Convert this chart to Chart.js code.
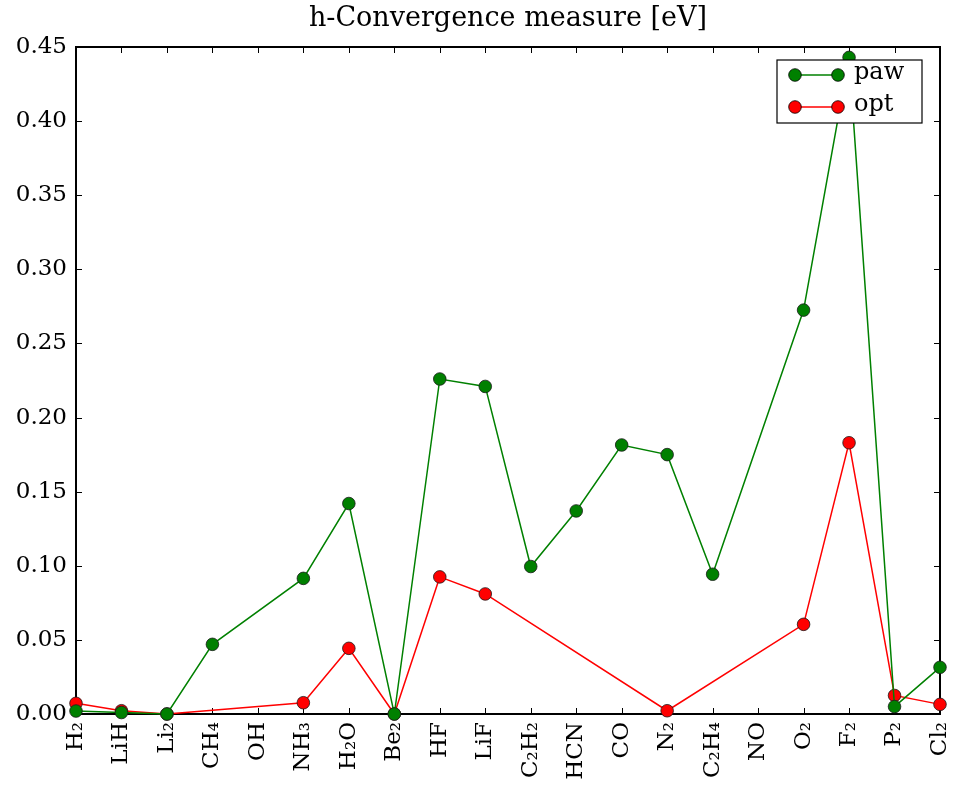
<!DOCTYPE html>
<html><head><meta charset="utf-8">
<script src="https://cdn.jsdelivr.net/npm/chart.js@4.4.1/dist/chart.umd.min.js"></script>
<style>html,body{margin:0;padding:0;background:#fff}canvas{display:block}</style>
</head><body>
<canvas id="c" width="959" height="786"></canvas>
<script>
const categories = ['H₂','LiH','Li₂','CH₄','OH','NH₃','H₂O','Be₂','HF','LiF','C₂H₂','HCN','CO','N₂','C₂H₄','NO','O₂','F₂','P₂','Cl₂'];
const pawValues = [0.002,0.001,0.0,0.047,null,0.0915,0.142,0.0,0.226,0.221,0.0995,0.137,0.1815,0.175,0.0943,null,0.2725,0.443,0.005,0.0315];
const optValues = [0.0072,0.0022,0.0,null,null,0.0076,0.0443,0.0,0.0925,0.081,null,null,null,0.0022,null,null,0.0605,0.183,0.0125,0.0065];
const yTickValues = [0.00,0.05,0.10,0.15,0.20,0.25,0.30,0.35,0.40,0.45];
const titleText = 'h-Convergence measure [eV]';
const seriesNames = ['paw','opt'];

const FONT = "'DejaVu Serif', serif";

const framePlugin = {
  id: 'frame',
  beforeDatasetsDraw(chart) {
    const {ctx, chartArea: a, scales: {x, y}} = chart;
    ctx.save();
    ctx.strokeStyle = '#000';
    ctx.lineWidth = 1;
    ctx.beginPath();
    for (let i = 0; i < x.ticks.length; i++) {
      const px = Math.round(x.getPixelForTick(i)) + 0.5;
      ctx.moveTo(px, a.bottom); ctx.lineTo(px, a.bottom - 6);
      ctx.moveTo(px, a.top); ctx.lineTo(px, a.top + 6);
    }
    y.ticks.forEach(t => {
      const py = Math.round(y.getPixelForValue(t.value)) + 0.5;
      ctx.moveTo(a.left, py); ctx.lineTo(a.left + 6, py);
      ctx.moveTo(a.right, py); ctx.lineTo(a.right - 6, py);
    });
    ctx.stroke();
    ctx.lineWidth = 2;
    ctx.strokeRect(a.left, a.top, a.right - a.left, a.bottom - a.top);
    ctx.restore();
  }
};

const legendPlugin = {
  id: 'boxLegend',
  afterDraw(chart) {
    const {ctx, chartArea: a} = chart;
    const w = 145, h = 63;
    const x0 = a.right - 18 - w, y0 = a.top + 13;
    ctx.save();
    ctx.fillStyle = '#fff';
    ctx.fillRect(x0, y0, w, h);
    ctx.strokeStyle = '#000';
    ctx.lineWidth = 1.2;
    ctx.strokeRect(x0, y0, w, h);
    chart.data.datasets.forEach((ds, i) => {
      const yy = y0 + 15 + i * 32;
      const xa = x0 + 18, xb = x0 + 61;
      ctx.strokeStyle = ds.borderColor;
      ctx.lineWidth = ds.borderWidth;
      ctx.beginPath(); ctx.moveTo(xa, yy); ctx.lineTo(xb, yy); ctx.stroke();
      [xa, xb].forEach(px => {
        ctx.beginPath(); ctx.arc(px, yy, ds.pointRadius, 0, Math.PI * 2);
        ctx.fillStyle = ds.pointBackgroundColor; ctx.fill();
        ctx.strokeStyle = '#000'; ctx.lineWidth = 0.8; ctx.stroke();
      });
      ctx.fillStyle = '#000';
      ctx.font = '24px ' + FONT;
      ctx.textBaseline = 'middle';
      ctx.textAlign = 'left';
      ctx.fillText(ds.label, x0 + 77, yy - 2);
    });
    ctx.restore();
  }
};

new Chart(document.getElementById('c'), {
  type: 'line',
  data: {
    labels: categories,
    datasets: [
      {label: seriesNames[0], data: pawValues, borderColor: '#008000', backgroundColor: '#008000',
       pointBackgroundColor: '#008000', pointBorderColor: '#1a1a1a', pointBorderWidth: 0.8,
       pointRadius: 6.3, borderWidth: 1.5, spanGaps: true, tension: 0, clip: false},
      {label: seriesNames[1], data: optValues, borderColor: '#ff0000', backgroundColor: '#ff0000',
       pointBackgroundColor: '#ff0000', pointBorderColor: '#1a1a1a', pointBorderWidth: 0.8,
       pointRadius: 6.3, borderWidth: 1.5, spanGaps: true, tension: 0, clip: false}
    ]
  },
  options: {
    responsive: false,
    animation: false,
    layout: {padding: {left: 0, right: 19, top: 0, bottom: 0}},
    plugins: {
      legend: {display: false},
      tooltip: {enabled: false},
      title: {display: true, fullSize: false, text: titleText, color: '#000',
              font: {family: FONT, size: 27, weight: 'normal', lineHeight: 1.2}, padding: {top: 3, bottom: 11.6}}
    },
    scales: {
      x: {
        type: 'category', offset: false,
        grid: {display: false, drawTicks: false}, border: {display: false},
        ticks: {autoSkip: false, minRotation: 90, maxRotation: 90, padding: 8, color: '#000',
                font: {family: FONT, size: 23}},
        afterFit(s) { s.height = 72; s.paddingLeft = 0; s.paddingRight = 0; }
      },
      y: {
        min: 0, max: 0.45,
        grid: {display: false, drawTicks: false}, border: {display: false},
        afterBuildTicks(s) { s.ticks = yTickValues.map(v => ({value: v})); },
        ticks: {padding: 9, color: '#000', font: {family: FONT, size: 23},
                callback: v => Number(v).toFixed(2)},
        afterFit(s) { s.width = 76; s.paddingTop = 0; s.paddingBottom = 0; }
      }
    }
  },
  plugins: [framePlugin, legendPlugin]
});
</script>
</body></html>
